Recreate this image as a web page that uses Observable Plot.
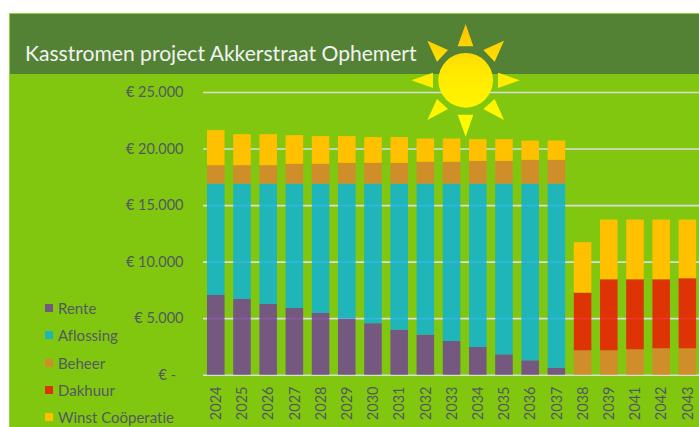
<!DOCTYPE html>
<html>
<head>
<meta charset="utf-8">
<script src="https://cdn.jsdelivr.net/npm/d3@7"></script>
<script src="https://cdn.jsdelivr.net/npm/@observablehq/plot@0.6"></script>
<style>
html,body{margin:0;padding:0;background:#fff;width:699px;height:427px;overflow:hidden;font-family:Lato,sans-serif;font-variant-ligatures:none}
#panel{position:absolute;left:9px;top:13px;width:690px;height:414px;background:#81c70f;border-left:1px solid #9ccf3f;border-top:1px solid #9ccf3f;box-sizing:border-box}
#band{position:absolute;left:10px;top:14px;width:689px;height:60px;background:#548235}
#title{position:absolute;left:25px;top:40px;font-size:21.1px;line-height:26px;color:#f2f2f2;white-space:nowrap}
#chart{position:absolute;left:0;top:0}
#chart text{font-variant-ligatures:none}
#sun{position:absolute;left:350px;top:0}
.lg{position:absolute;left:45px;font-size:15px;line-height:18px;color:#525a60;white-space:nowrap}
.lg i{position:absolute;left:0;top:5px;width:8px;height:8px}
.lg span{position:absolute;left:13px;top:0}
</style>
</head>
<body>
<div id="panel"></div>
<div id="band"></div>
<div id="title">Kasstromen project Akkerstraat Ophemert</div>
<div id="chart"></div>
<svg id="sun" width="349" height="214" viewBox="0 0 1047 642">
  <defs><linearGradient id="sg" gradientUnits="userSpaceOnUse" x1="0" y1="72" x2="0" y2="410">
    <stop offset="0" stop-color="#ffc000"/><stop offset="0.4" stop-color="#ffe800"/><stop offset="1" stop-color="#ffff00"/></linearGradient></defs>
  <g fill="url(#sg)">
    <circle cx="347" cy="241" r="82"/>
    <polygon points="347,72 323,139 370,139"/>
    <polygon points="510,241 444,218 444,264"/>
    <polygon points="347,410 323,344 370,344"/>
    <polygon points="184,241 249,218 249,264"/>
    <polygon points="462,122 400,150 434,185"/>
    <polygon points="232,122 294,150 261,185"/>
    <polygon points="462,360 400,327 434,297"/>
    <polygon points="232,360 294,327 261,297"/>
  </g>
</svg>
<script>
const years = ["2024","2025","2026","2027","2028","2029","2030","2031","2032","2033","2034","2035","2036","2037","2038","2039","2041","2042","2043"];
const rente = [7050,6700,6260,5900,5460,4960,4550,3980,3540,2980,2450,1800,1270,620,0,0,0,0,0];
const aflossing = [9850,10200,10640,11000,11440,11940,12350,12920,13360,13920,14450,15100,15630,16280,0,0,0,0,0];
const beheer = [1630,1630,1630,1750,1750,1835,1835,1835,1925,1925,2010,2010,2100,2100,2160,2160,2250,2335,2335];
const dakhuur = [0,0,0,0,0,0,0,0,0,0,0,0,0,0,5100,6280,6190,6105,6195];
const winst = [3100,2740,2740,2535,2450,2365,2275,2275,2065,2065,1920,1920,1710,1710,4460,5280,5280,5280,5190];
const seriesNames = ["Rente","Aflossing","Beheer","Dakhuur","Winst Coöperatie"];
const seriesValues = [rente,aflossing,beheer,dakhuur,winst];
const seriesColors = ["#734493","#0fb2d6","#de8430","#ed1903","#ffc000"];
const legendColors = ["#75587f","#20b5b8","#d08e2b","#dd3305","#ffc000"];
const seriesOpacity = [0.85,0.85,0.85,0.85,1];
const legendTops = [299,326,354,381,408];
const yTicks = [0,5000,10000,15000,20000,25000];

const rows = seriesNames.flatMap((s,i)=>years.map((y,j)=>({year:y,serie:s,value:seriesValues[i][j],op:seriesOpacity[i]}))).filter(d=>d.value>0);
const euro = v => v===0 ? "€ -\u00a0\u00a0" : "€ " + String(v).replace(/\B(?=(\d{3})+$)/g,".");

const plot = Plot.plot({
  width:699,height:427,
  marginTop:92,marginBottom:52,marginLeft:203,marginRight:0,
  style:{background:"transparent",fontFamily:"Lato, sans-serif",fontSize:"14.5px",color:"#525a60",overflow:"hidden"},
  x:{type:"band",domain:years,range:[198.35,704.8],padding:0.33,round:false,label:null},
  y:{domain:[0,25000],range:[374.7,92],label:null},
  color:{domain:seriesNames,range:seriesColors},
  opacity:{type:"identity"},
  marks:[
    Plot.ruleY(yTicks,{stroke:"#dcdcdc",strokeWidth:1.6}),
    Plot.barY(rows,{x:"year",y:"value",fill:"serie",fillOpacity:"op"}),
    Plot.axisY({ticks:yTicks,tickFormat:euro,tickSize:0,tickPadding:20,anchor:"left",label:null,fill:"#525a60"}),
    Plot.axisX({tickRotate:-90,tickSize:0,tickPadding:11,anchor:"bottom",label:null,fill:"#525a60"})
  ]
});
document.getElementById("chart").appendChild(plot);

seriesNames.forEach((s,i)=>{
  const d=document.createElement("div");d.className="lg";d.style.top=legendTops[i]+"px";
  const sq=document.createElement("i");sq.style.background=legendColors[i];
  const t=document.createElement("span");t.textContent=s;
  d.append(sq,t);document.body.appendChild(d);
});
</script>
</body>
</html>
